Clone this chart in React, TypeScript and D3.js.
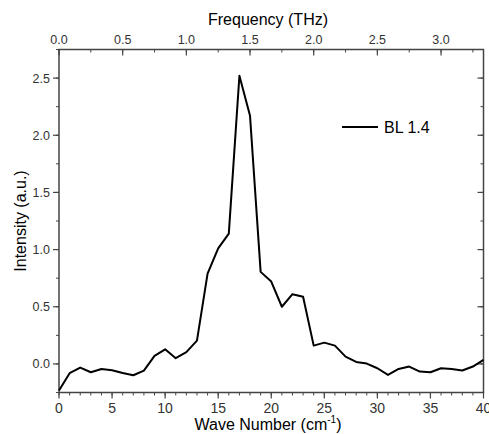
import React from "react";
import * as d3 from "d3";

const waveNumbers = [0,1,2,3,4,5,6,7,8,9,10,11,12,13,14,15,16,17,18,19,20,21,22,23,24,25,26,27,28,29,30,31,32,33,34,35,36,37,38,39,40];
const intensity = [-0.233,-0.081,-0.032,-0.073,-0.044,-0.055,-0.08,-0.099,-0.058,0.07,0.128,0.05,0.103,0.204,0.79,1.01,1.14,2.52,2.17,0.805,0.72,0.5,0.61,0.587,0.16,0.186,0.16,0.064,0.017,0.003,-0.038,-0.096,-0.044,-0.023,-0.067,-0.073,-0.038,-0.044,-0.058,-0.023,0.035];
const bottomTicks = [0,5,10,15,20,25,30,35,40];
const leftTicks = [0,0.5,1,1.5,2,2.5];
const topTicks = [0,0.5,1,1.5,2,2.5,3];
const seriesName = "BL 1.4";

export default function App() {
  const W = 489, H = 434;
  const L = 59, R = 483.5, T = 49.5, B = 392.5;
  const x = d3.scaleLinear().domain([0, 40]).range([L, R]);
  const y = d3.scaleLinear().domain([-0.25, 2.75]).range([B, T]);
  const xt = d3.scaleLinear().domain([0, 40 / 12]).range([L, R]);
  const line = d3.line<number>().x((_, i) => x(waveNumbers[i])).y((d) => y(d));
  const axisColor = "#444";
  const font = "Liberation Sans, Arial, sans-serif";
  const minorX = d3.range(0, 41, 1);
  const minorY = d3.range(-0.25, 2.76, 0.25);
  const minorTop = d3.range(0, 3.34, 0.25);
  return (
    <svg width={W} height={H} style={{ position: "absolute", left: 0, top: 0, background: "#fff" }} fontFamily={font}>
      <rect x={0} y={0} width={W} height={H} fill="#fff" />
      {minorX.map((v) => (
        <line key={"mxb" + v} x1={x(v)} x2={x(v)} y1={B} y2={B + 3} stroke={axisColor} strokeWidth={1} />
      ))}
      {minorY.map((v) => (
        <g key={"my" + v}>
          <line x1={L - 3} x2={L} y1={y(v)} y2={y(v)} stroke={axisColor} strokeWidth={1} />
          <line x1={R - 3} x2={R} y1={y(v)} y2={y(v)} stroke={axisColor} strokeWidth={1} />
        </g>
      ))}
      {minorTop.map((v) => (
        <line key={"mt" + v} x1={xt(v)} x2={xt(v)} y1={T} y2={T + 3} stroke={axisColor} strokeWidth={1} />
      ))}
      {bottomTicks.map((v) => (
        <g key={"bt" + v}>
          <line x1={x(v)} x2={x(v)} y1={B} y2={B + 6} stroke={axisColor} strokeWidth={1.2} />
          <text x={x(v)} y={B + 20} textAnchor="middle" fontSize={14} fill="#333">{v}</text>
        </g>
      ))}
      {leftTicks.map((v) => (
        <g key={"lt" + v}>
          <line x1={L - 6} x2={L} y1={y(v)} y2={y(v)} stroke={axisColor} strokeWidth={1.2} />
          <line x1={R - 6} x2={R} y1={y(v)} y2={y(v)} stroke={axisColor} strokeWidth={1.2} />
          <text x={L - 9} y={y(v) + 4.5} textAnchor="end" fontSize={12.5} fill="#333">{v.toFixed(1)}</text>
        </g>
      ))}
      {topTicks.map((v) => (
        <g key={"tt" + v}>
          <line x1={xt(v)} x2={xt(v)} y1={T} y2={T + 6} stroke={axisColor} strokeWidth={1.2} />
          <text x={xt(v)} y={T - 6} textAnchor="middle" fontSize={12.5} fill="#333">{v.toFixed(1)}</text>
        </g>
      ))}
      <rect x={L} y={T} width={R - L} height={B - T} fill="none" stroke={axisColor} strokeWidth={1.5} />
      <path d={line(intensity) || ""} fill="none" stroke="#000" strokeWidth={2} strokeLinejoin="round" />
      <line x1={342} x2={378} y1={127} y2={127} stroke="#000" strokeWidth={2} />
      <text x={384} y={133} fontSize={16} fill="#000">{seriesName}</text>
      <text x={268} y={25} textAnchor="middle" fontSize={16} fill="#000">Frequency (THz)</text>
      <text x={268} y={430} textAnchor="middle" fontSize={16} fill="#000">
        Wave Number (cm<tspan dy={-7} fontSize={10}>-1</tspan><tspan dy={7}>)</tspan>
      </text>
      <text transform={`translate(26,${(T + B) / 2}) rotate(-90)`} textAnchor="middle" fontSize={16} fill="#000">Intensity (a.u.)</text>
    </svg>
  );
}
